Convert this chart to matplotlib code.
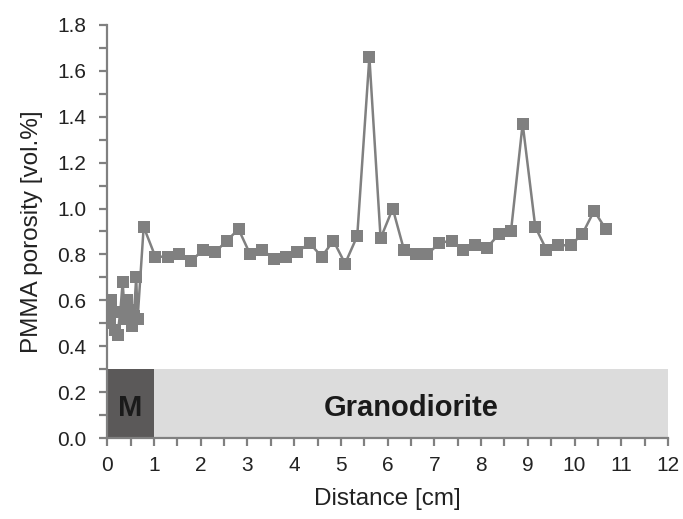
import numpy as np
import matplotlib.pyplot as plt
from matplotlib.ticker import MultipleLocator

# PMMA porosity profile across mortar (M) and granodiorite
plt.rcParams['font.family'] = ['Liberation Sans', 'DejaVu Sans']

distance = [0.05, 0.08, 0.12, 0.17, 0.22, 0.28, 0.33, 0.38, 0.43, 0.48, 0.52, 0.57, 0.62, 0.65,
            0.78, 1.03, 1.29, 1.54, 1.79, 2.05, 2.31, 2.56, 2.81, 3.06, 3.32, 3.57, 3.82,
            4.07, 4.33, 4.59, 4.84, 5.09, 5.35, 5.61, 5.85, 6.11, 6.35, 6.61, 6.85, 7.11,
            7.37, 7.62, 7.88, 8.13, 8.39, 8.64, 8.89, 9.16, 9.40, 9.65, 9.92, 10.17, 10.42, 10.67]
porosity = [0.50, 0.60, 0.55, 0.47, 0.45, 0.55, 0.68, 0.52, 0.60, 0.56, 0.49, 0.53, 0.70, 0.52,
            0.92, 0.79, 0.79, 0.80, 0.77, 0.82, 0.81, 0.86, 0.91, 0.80, 0.82, 0.78, 0.79,
            0.81, 0.85, 0.79, 0.86, 0.76, 0.88, 1.66, 0.87, 1.00, 0.82, 0.80, 0.80, 0.85,
            0.86, 0.82, 0.84, 0.83, 0.89, 0.90, 1.37, 0.92, 0.82, 0.84, 0.84, 0.89, 0.99, 0.91]

zones = ['M', 'Granodiorite']
zone_start = [0, 1]
zone_end = [1, 12]
zone_colours = ['#5b5959', '#dcdcdc']
zone_height = 0.3

fig = plt.figure(figsize=(6.83, 5.19), dpi=100)
ax = fig.add_axes([0.157, 0.156, 0.821, 0.796])

for name, x0, x1, c in zip(zones, zone_start, zone_end, zone_colours):
    ax.axvspan(x0, x1, ymin=0, ymax=zone_height / 1.8, color=c, lw=0, zorder=1)
    ax.text((x0 + x1) / 2, zone_height / 2 - 0.02, name, ha='center', va='center',
            fontsize=21, fontweight='bold', color='#1a1a1a', zorder=2)

ax.plot(distance, porosity, color='#808080', lw=1.8, marker='s', markersize=8,
        markeredgewidth=0, zorder=3)

ax.set_xlim(0, 12)
ax.set_ylim(0, 1.8)
ax.xaxis.set_major_locator(MultipleLocator(1))
ax.xaxis.set_minor_locator(MultipleLocator(0.5))
ax.yaxis.set_major_locator(MultipleLocator(0.2))
ax.yaxis.set_minor_locator(MultipleLocator(0.1))
ax.yaxis.set_major_formatter(plt.FuncFormatter(lambda v, p: f"{v:.1f}"))

for s in ['top', 'right']:
    ax.spines[s].set_visible(False)
for s in ['left', 'bottom']:
    ax.spines[s].set_color('#808080')
    ax.spines[s].set_linewidth(1.6)
ax.tick_params(which='both', direction='out', length=6, width=1.6, color='#808080',
               labelsize=15, labelcolor='#222222')
ax.tick_params(axis='y', pad=9)
ax.tick_params(axis='x', pad=7)

ax.set_xlabel('Distance [cm]', fontsize=17.5, color='#222222', labelpad=9)
ax.set_ylabel('PMMA porosity [vol.%]', fontsize=17.5, color='#222222', labelpad=10)

fig.savefig('out.png', dpi=100)
